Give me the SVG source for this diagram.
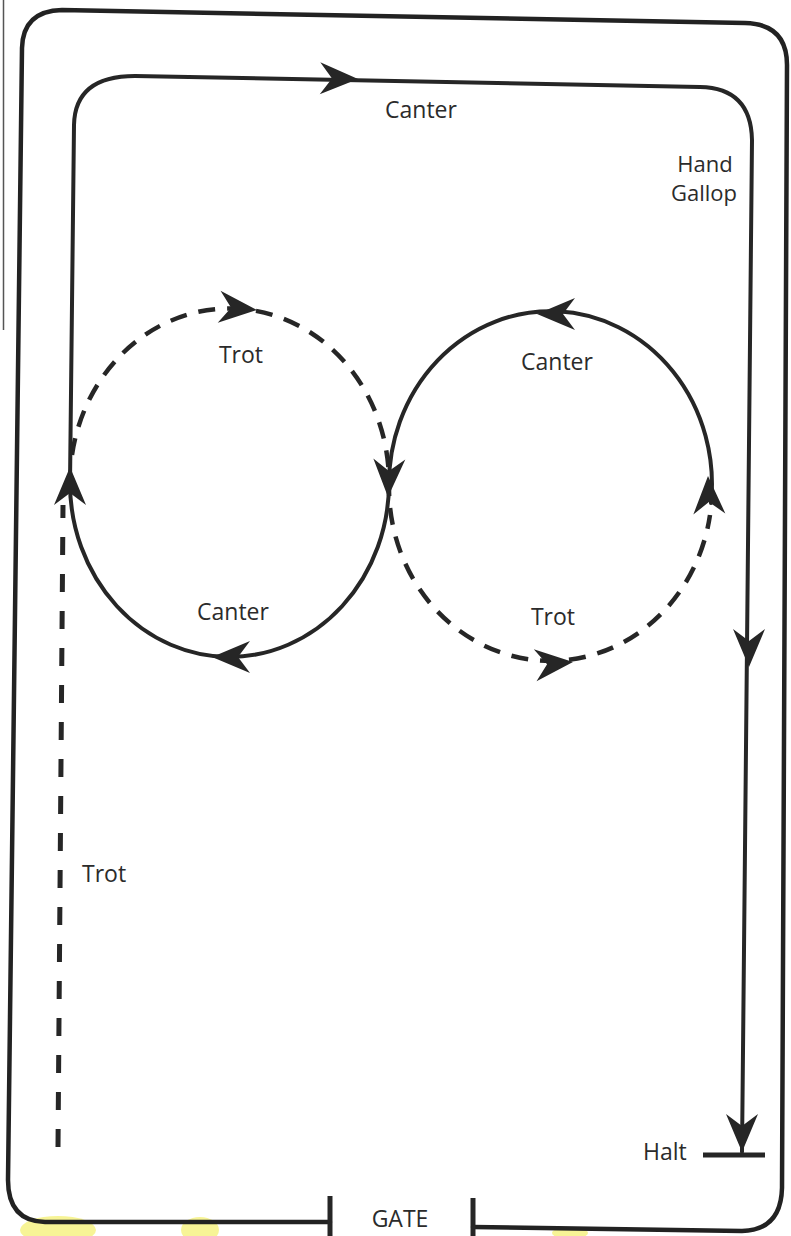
<svg xmlns="http://www.w3.org/2000/svg" width="791" height="1236" viewBox="0 0 791 1236">
<style>
.bg{fill:#ffffff}
.hl{fill:#f4f06a;opacity:0.7}
.edge{fill:none;stroke:#222;stroke-width:4.5;stroke-linecap:round;stroke-linejoin:round}
.solid{fill:none;stroke:#262626;stroke-width:4;stroke-linecap:round;stroke-linejoin:round}
.dash{fill:none;stroke:#262626;stroke-width:4.5;stroke-dasharray:17 12}
.vdash{fill:none;stroke:#262626;stroke-width:5;stroke-dasharray:18 19}
.post{stroke:#262626;stroke-width:5;fill:none}
.ah{fill:#262626}
.lbl{font-family:"Open Sans","Noto Sans",sans-serif;font-size:23px;fill:#2b2b2b}
.sm{font-size:22px}
.mid{text-anchor:middle}
</style>
<defs>
<path id="arrow" class="ah" d="M0,0 L-38,-16 L-26,0 L-38,16 Z"/>
</defs>
<rect class="bg" x="0" y="0" width="791" height="1236"/>
<g id="highlights">
<ellipse class="hl" cx="58" cy="1230" rx="38" ry="14"/>
<ellipse class="hl" cx="200" cy="1230" rx="19" ry="13"/>
<ellipse class="hl" cx="570" cy="1233" rx="18" ry="6"/>
</g>
<line x1="3.5" y1="0" x2="3.5" y2="330" stroke="#555" stroke-width="1.5"/>
<g id="arena">
<path class="edge" d="M330,1222 L45,1222 Q8,1221 8,1180 L22,48 Q23,11 62,10 L745,23 Q787,24 787,65 L782,1188 Q781,1230 742,1231 L473,1227"/>
</g>
<g id="gate">
<line class="post" x1="330" y1="1196" x2="330" y2="1236"/>
<line class="post" x1="473" y1="1198" x2="473" y2="1236"/>
<text class="lbl mid" x="400" y="1227">GATE</text>
</g>
<g id="connectors">
<path class="vdash" d="M58,1147 L63,505"/>
<path class="dash" d="M72,455 A159.5,174 0 0 1 389,483 L389,488 A161.5,173 0 0 0 710,515"/>
<path class="solid" d="M711,503 A161.5,173 0 1 0 389,488 L389,483 A159.5,174 0 0 1 70,483 L74,125 Q75,76 135,76 L700,87 Q751,88 752,140 L742,1152"/>
<line x1="703" y1="1155" x2="765" y2="1155" stroke="#262626" stroke-width="5"/>
<use href="#arrow" transform="translate(358,79) rotate(1)"/>
<use href="#arrow" transform="translate(749,667) rotate(90)"/>
<use href="#arrow" transform="translate(742,1152) rotate(90)"/>
<use href="#arrow" transform="translate(257,310) rotate(5)"/>
<use href="#arrow" transform="translate(388,497) rotate(92)"/>
<use href="#arrow" transform="translate(212,657) rotate(180)"/>
<use href="#arrow" transform="translate(70,467) rotate(-90)"/>
<use href="#arrow" transform="translate(537,314) rotate(180)"/>
<use href="#arrow" transform="translate(708,476) rotate(-92)"/>
<use href="#arrow" transform="translate(573,662) rotate(-5)"/>
</g>
<g id="labels">
<text class="lbl mid" x="421" y="118">Canter</text>
<text class="lbl sm mid" x="705" y="172">Hand</text>
<text class="lbl sm mid" x="704" y="201">Gallop</text>
<text class="lbl mid" x="241" y="363">Trot</text>
<text class="lbl mid" x="233" y="620">Canter</text>
<text class="lbl mid" x="557" y="370">Canter</text>
<text class="lbl mid" x="553" y="625">Trot</text>
<text class="lbl" x="82" y="882">Trot</text>
<text class="lbl" x="643" y="1160">Halt</text>
</g>
</svg>
